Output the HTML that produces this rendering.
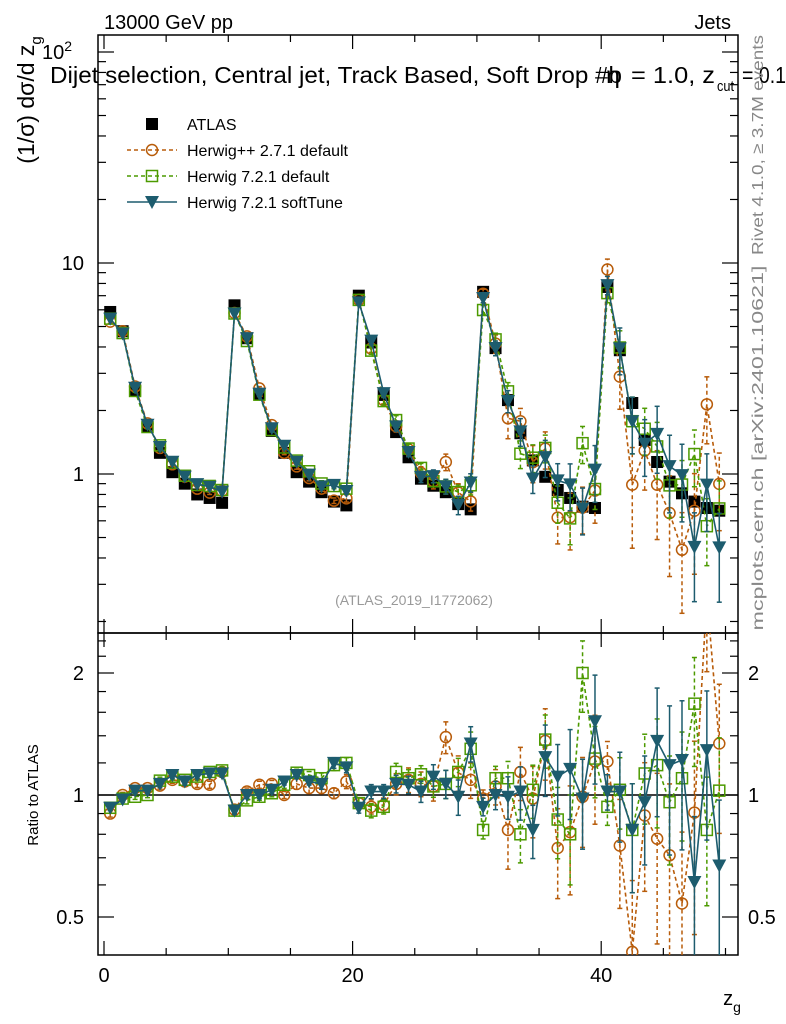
<!DOCTYPE html>
<html><head><meta charset="utf-8"><style>
body{margin:0;background:#fff}
svg{display:block;font-family:"Liberation Sans",sans-serif}
</style></head><body>
<svg id="c" width="786" height="1024" viewBox="0 0 786 1024">
<defs>
<clipPath id="cm"><rect x="98" y="35" width="640" height="598"/></clipPath>
<clipPath id="cr"><rect x="98" y="633" width="640" height="322"/></clipPath>
</defs>
<text x="104" y="29" font-size="20">13000 GeV pp</text>
<text x="731" y="29" font-size="20" text-anchor="end">Jets</text>
<g font-size="23">
<text x="50" y="83" textLength="572" lengthAdjust="spacingAndGlyphs">Dijet selection, Central jet, Track Based, Soft Drop #b</text>
<text x="606" y="83" textLength="14" lengthAdjust="spacingAndGlyphs">η</text>
<text x="631" y="83" textLength="84" lengthAdjust="spacingAndGlyphs">= 1.0, z</text>
<text x="717" y="91" font-size="15" textLength="17" lengthAdjust="spacingAndGlyphs">cut</text>
<text x="742" y="83" textLength="44" lengthAdjust="spacingAndGlyphs">= 0.1</text>
</g>
<text transform="translate(34,100) rotate(-90)" font-size="23" text-anchor="middle">(1/σ) dσ/d z<tspan font-size="15" dy="7">g</tspan></text>
<text transform="translate(38,795) rotate(-90)" font-size="15" text-anchor="middle">Ratio to ATLAS</text>
<text transform="translate(763,145) rotate(-90)" font-size="16" fill="#888" text-anchor="middle" textLength="220" lengthAdjust="spacingAndGlyphs">Rivet 4.1.0, ≥ 3.7M events</text>
<text transform="translate(763,448) rotate(-90)" font-size="16" fill="#888" text-anchor="middle" textLength="365" lengthAdjust="spacingAndGlyphs">mcplots.cern.ch [arXiv:2401.10621]</text>
<text x="414" y="605" font-size="14" fill="#999" text-anchor="middle">(ATLAS_2019_I1772062)</text>
<text x="732" y="1005" font-size="20" text-anchor="middle">z<tspan font-size="14" dy="7">g</tspan></text>
<g id="axes"></g>
<g id="main" clip-path="url(#cm)"></g>
<g id="ratio" clip-path="url(#cr)"></g>
<g id="legend"></g>
</svg>
<script>
const bins = [0.5,1.5,2.5,3.5,4.5,5.5,6.5,7.5,8.5,9.5,10.5,11.5,12.5,13.5,14.5,15.5,16.5,17.5,18.5,19.5,20.5,21.5,22.5,23.5,24.5,25.5,26.5,27.5,28.5,29.5,30.5,31.5,32.5,33.5,34.5,35.5,36.5,37.5,38.5,39.5,40.5,41.5,42.5,43.5,44.5,45.5,46.5,47.5,48.5,49.5];
const atlas = [5.86,4.75,2.5,1.67,1.26,1.02,0.9,0.8,0.77,0.73, 6.3,4.4,2.4,1.6,1.26,1.02,0.92,0.82,0.74,0.71, 7.0,4.2,2.37,1.58,1.2,0.95,0.88,0.82,0.72,0.68, 7.3,3.95,2.24,1.56,1.16,0.97,0.84,0.77,0.7,0.69, 7.7,3.86,2.17,1.45,1.14,0.92,0.81,0.74,0.69,0.67];
const ratioPP = [0.9,1.0,1.04,1.04,1.055,1.09,1.08,1.065,1.06,1.14, 0.92,1.02,1.06,1.065,1.0,1.065,1.04,1.04,1.01,1.08, 0.955,0.935,0.945,1.065,1.09,1.065,1.05,1.39,1.135,1.09, 0.98,1.05,0.82,1.14,0.98,1.36,0.74,0.81,0.99,1.21, 1.21,0.75,0.41,0.89,0.78,0.71,0.54,0.905,3.1,1.34];
const ratioDef = [0.93,0.98,0.99,1.0,1.085,1.11,1.09,1.11,1.14,1.15, 0.915,0.97,0.99,1.01,1.06,1.135,1.12,1.1,1.185,1.2, 0.955,0.915,0.935,1.14,1.1,1.125,1.05,1.065,1.14,1.3, 0.82,1.1,1.1,0.8,1.03,1.37,0.87,0.8,2.0,1.23, 0.935,1.03,0.82,1.13,1.185,0.96,1.1,1.68,0.82,1.025];
const ratioSoft = [0.93,0.975,1.025,1.025,1.065,1.12,1.08,1.12,1.13,1.13, 0.915,1.0,1.0,1.03,1.08,1.12,1.08,1.065,1.2,1.17, 0.93,1.02,1.02,1.065,1.06,1.02,1.11,1.065,0.99,1.34, 0.935,1.0,0.99,1.02,0.82,1.24,1.11,1.16,0.98,1.52, 1.02,1.02,0.82,0.96,1.36,1.185,1.22,0.61,1.29,0.67];
const errPP = [0.02,0.015,0.015,0.015,0.02,0.02,0.02,0.02,0.02,0.02, 0.02,0.02,0.02,0.02,0.02,0.03,0.03,0.03,0.03,0.04, 0.03,0.04,0.04,0.06,0.07,0.07,0.08,0.09,0.1,0.1, 0.05,0.1,0.2,0.15,0.2,0.2,0.25,0.3,0.25,0.3, 0.12,0.3,0.5,0.35,0.45,0.5,0.5,0.5,0.35,0.4];
const errDef = [0.015,0.015,0.015,0.015,0.02,0.02,0.02,0.02,0.02,0.02, 0.02,0.02,0.02,0.02,0.02,0.02,0.02,0.03,0.03,0.03, 0.03,0.04,0.04,0.05,0.05,0.05,0.06,0.08,0.08,0.1, 0.05,0.07,0.1,0.15,0.15,0.15,0.2,0.25,0.2,0.2, 0.1,0.2,0.3,0.25,0.3,0.3,0.3,0.3,0.35,0.35];
const errSoft = [0.015,0.015,0.015,0.015,0.02,0.02,0.02,0.02,0.02,0.02, 0.02,0.02,0.02,0.02,0.02,0.02,0.02,0.03,0.03,0.03, 0.03,0.04,0.04,0.05,0.05,0.06,0.07,0.08,0.1,0.1, 0.05,0.08,0.12,0.15,0.15,0.2,0.2,0.25,0.25,0.3, 0.1,0.25,0.3,0.3,0.35,0.4,0.4,0.45,0.4,0.45];
const xTicks = [0,20,40];
const yMainTicks = [{v:100,l:"10"},{v:10,l:"10"},{v:1,l:"1"}];
const yRatioTicks = ["2","1","0.5"];
const yRatioVals = [2,1,0.5];

const NS="http://www.w3.org/2000/svg";
const X=v=>104+v*12.43;
const YM=v=>474-211*Math.log10(v);
const YR=r=>795-122*Math.log2(r);
function mk(tag,attrs,parent){const e=document.createElementNS(NS,tag);for(const k in attrs)e.setAttribute(k,attrs[k]);parent.appendChild(e);return e;}
const ax=document.getElementById('axes'),gm=document.getElementById('main'),gr=document.getElementById('ratio'),lg=document.getElementById('legend');

let f1=mk('rect',{x:98,y:35,width:640,height:598,fill:'none',stroke:'#000','stroke-width':1.5},ax);


let f2=mk('rect',{x:98,y:633,width:640,height:322,fill:'none',stroke:'#000','stroke-width':1.5},ax);


let one=mk('line',{x1:98,x2:738,y1:YR(1),y2:YR(1),stroke:'#000','stroke-width':1.5},ax);



for(let v=0;v<=50;v+=5){
  const big=v%20===0, L=big?14:7;
  for(const [yb,dir] of [[955,-1],[633,-1],[633,1],[35,1]]){
    mk('line',{x1:X(v),x2:X(v),y1:yb,y2:yb+dir*L,stroke:'#000','stroke-width':1.2},ax);
  }
}
xTicks.forEach(v=>{const t=mk('text',{x:X(v),y:982,'font-size':20,'text-anchor':'middle'},ax);t.textContent=v;

});
for(let d=-1;d<=2;d++)for(let m=1;m<=9;m++){const v=m*Math.pow(10,d);const y=YM(v);if(y<35||y>633)continue;
const L=m===1?16:8;mk('line',{x1:98,x2:98+L,y1:y,y2:y,stroke:'#000','stroke-width':1.2},ax);mk('line',{x1:738,x2:738-L,y1:y,y2:y,stroke:'#000','stroke-width':1.2},ax);}
yMainTicks.forEach(o=>{const t=mk('text',{x:84,y:YM(o.v)+7,'font-size':20,'text-anchor':'end'},ax);t.textContent=o.l;


if(o.v===100){t.setAttribute('x',72);const s=mk('tspan',{'font-size':14,dy:-8},t);s.textContent='2';}});
[0.5,0.6,0.7,0.8,0.9,1,1.2,1.4,1.6,1.8,2,2.2,2.4].forEach(r=>{const y=YR(r);const L=(r===0.5||r===1||r===2)?16:8;
mk('line',{x1:98,x2:98+L,y1:y,y2:y,stroke:'#000','stroke-width':1.2},ax);mk('line',{x1:738,x2:738-L,y1:y,y2:y,stroke:'#000','stroke-width':1.2},ax);});
yRatioVals.forEach((r,i)=>{for(const [x,a] of [[84,'end'],[748,'start']]){const t=mk('text',{x:x,y:YR(r)+7,'font-size':20,'text-anchor':a},ax);t.textContent=yRatioTicks[i];

}});

function marker(type,x,y,col,parent){
  let e;
  if(type==='sqf') e=mk('rect',{x:x-6,y:y-6,width:12,height:12,fill:'#000'},parent);
  else if(type==='circ') e=mk('circle',{cx:x,cy:y,r:5.5,fill:'none',stroke:col,'stroke-width':1.5},parent);
  else if(type==='sq') e=mk('rect',{x:x-5.5,y:y-5.5,width:11,height:11,fill:'none',stroke:col,'stroke-width':1.5},parent);
  else e=mk('path',{d:`M${x-7},${y-6}L${x+7},${y-6}L${x},${y+7}Z`,fill:col},parent);
  return e;
}
const series=[
 {name:'herwigpp-271',r:ratioPP,err:errPP,col:'#b85c0a',type:'circ',dash:'4,3',label:'Herwig++ 2.7.1 default'},
 {name:'herwig-721-default',r:ratioDef,err:errDef,col:'#4c9a00',type:'sq',dash:'4,3',label:'Herwig 7.2.1 default'},
 {name:'herwig-721-softtune',r:ratioSoft,err:errSoft,col:'#1d5c6e',type:'tri',dash:null,label:'Herwig 7.2.1 softTune'}
];
atlas.forEach((v,i)=>{const m=marker('sqf',X(bins[i]),YM(v),'#000',gm);

});
series.forEach(s=>{
  for(const [g,Yf,isR] of [[gm,YM,false],[gr,YR,true]]){
    const pts=bins.map((b,i)=>{const val=isR?s.r[i]:atlas[i]*s.r[i];return [X(b),Yf(val),val];});
    const pl=mk('polyline',{points:pts.map(p=>p[0]+','+p[1]).join(' '),fill:'none',stroke:s.col,'stroke-width':1.6},g);
    if(s.dash)pl.setAttribute('stroke-dasharray',s.dash);
    
    
    pts.forEach((p,i)=>{
      const e=s.err[i];const lo=Yf(p[2]*(1-e)),hi=Yf(p[2]*(1+e));
      const eb=mk('line',{x1:p[0],x2:p[0],y1:lo,y2:hi,stroke:s.col,'stroke-width':1.5},g);
      if(s.dash)eb.setAttribute('stroke-dasharray','4,3');
      mk('line',{x1:p[0]-2.5,x2:p[0]+2.5,y1:lo,y2:lo,stroke:s.col,'stroke-width':1.5},g);
      mk('line',{x1:p[0]-2.5,x2:p[0]+2.5,y1:hi,y2:hi,stroke:s.col,'stroke-width':1.5},g);
      const m=marker(s.type,p[0],p[1],s.col,g);
      
      
    });
  }
});
const lgRows=[{label:'ATLAS',type:'sqf',col:'#000',dash:null,line:false}].concat(series.map(s=>({label:s.label,type:s.type,col:s.col,dash:s.dash,line:true})));
lgRows.forEach((r,i)=>{const y=124+i*26;
  if(r.line){const l=mk('line',{x1:127,x2:177,y1:y,y2:y,stroke:r.col,'stroke-width':1.6},lg);if(r.dash)l.setAttribute('stroke-dasharray',r.dash);}
  marker(r.type,152,y,r.col,lg);
  const t=mk('text',{x:187,y:y+6,'font-size':16},lg);t.textContent=r.label;
  
  
});
</script>
</body></html>
